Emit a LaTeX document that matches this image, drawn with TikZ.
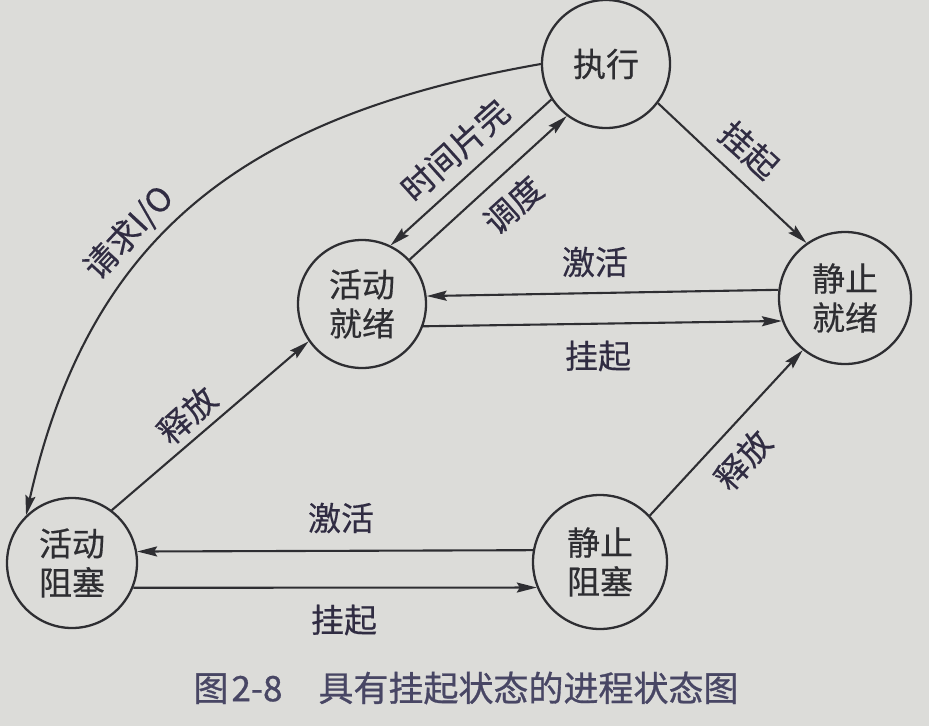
\documentclass[tikz,border=0pt]{standalone}
\usepackage{fontspec}
\newfontfamily\cjk[FakeBold=0.4]{Noto Sans CJK SC}
\newfontfamily\capfont[FakeBold=0.8]{Noto Sans CJK SC}
\usetikzlibrary{arrows.meta,calc}
\definecolor{bg}{RGB}{220,220,217}
\definecolor{ink}{RGB}{46,46,50}
\definecolor{lab}{RGB}{48,44,66}
\definecolor{cap}{RGB}{72,70,100}
\begin{document}
\begin{tikzpicture}[x=1pt,y=-1pt,
  state/.style={circle,draw=ink,line width=2.3pt,fill=bg,minimum size=130pt,inner sep=0pt,align=center,font=\cjk\fontsize{33}{39}\selectfont,text=ink},
  trans/.style={draw=ink,line width=2.1pt,-{Stealth[length=20pt,width=10pt,inset=3pt]}},
  lbl/.style={font=\cjk\fontsize{33}{39}\selectfont,text=lab,inner sep=0pt},
]
\fill[bg] (0,0) rectangle (929,726);
\useasboundingbox (0,0) rectangle (929,726);

\node[state,minimum size=128pt] (exec) at (606,64) {执行};
\node[state,minimum size=128pt] (ar) at (362,304) {活动\\就绪};
\node[state,minimum size=132pt] (sr) at (845,298) {静止\\就绪};
\node[state,minimum size=130pt] (ab) at (72,563) {活动\\阻塞};
\node[state,minimum size=134pt] (sb) at (600,562) {静止\\阻塞};

\draw[trans] (exec.180) .. controls (250,115) and (90,230) .. (ab.134);
\draw[trans] (exec.213) -- (ar.64);
\draw[trans] (ar.43) -- (exec.233);
\draw[trans] (exec.-37) -- (sr.125);
\draw[trans] (sr.173) -- (ar.7);
\draw[trans] (ar.-20) -- (sr.200);
\draw[trans] (ab.53) -- (ar.215);
\draw[trans] (sb.43) -- (sr.231);
\draw[trans] (sb.170) -- (ab.10.6);
\draw[trans] (ab.-22.6) -- (sb.202);

\node[lbl,rotate=47] (lreq) at (129,233) {请求I/O};
\node[lbl,rotate=42] (lslice) at (455,150) {时间片完};
\node[lbl,rotate=42] (lsched) at (513,205) {调度};
\node[lbl,rotate=-42] (lsusp1) at (749,150) {挂起};
\node[lbl] (lact1) at (595,262) {激活};
\node[lbl] (lsusp2) at (598,356) {挂起};
\node[lbl,rotate=42] (lrel1) at (187,415) {释放};
\node[lbl,rotate=48] (lrel2) at (743,460) {释放};
\node[lbl] (lact2) at (341,518) {激活};
\node[lbl] (lsusp3) at (344,620) {挂起};
\node[font=\capfont\fontsize{35}{40}\selectfont,text=cap,inner sep=0pt] (caption) at (466,688) {图\hspace{3pt}2-8\hspace{36pt}具有挂起状态的进程状态图};
\end{tikzpicture}
\end{document}
